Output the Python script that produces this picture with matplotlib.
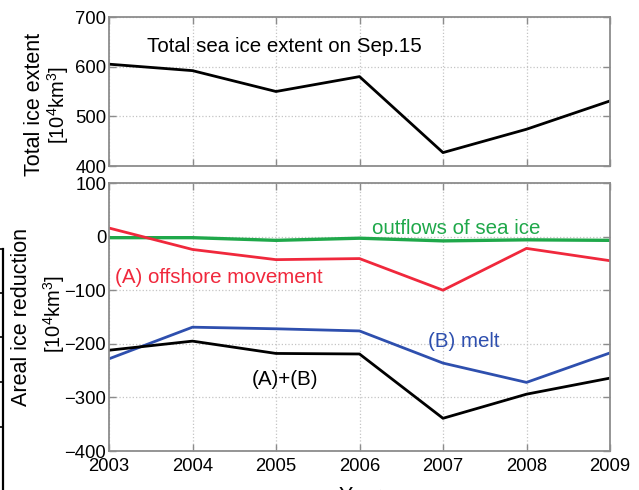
import matplotlib
matplotlib.use("Agg")
import matplotlib.pyplot as plt
from matplotlib.lines import Line2D

plt.rcParams['font.family'] = ['Liberation Sans', 'DejaVu Sans']
plt.rcParams['mathtext.fontset'] = 'custom'
plt.rcParams['mathtext.rm'] = 'Liberation Sans'
plt.rcParams['mathtext.default'] = 'regular'

years = [2003, 2004, 2005, 2006, 2007, 2008, 2009]
total_extent = [605, 592, 550, 580, 427, 474, 531]
outflows = [-2, -2, -7, -3, -8, -6, -7]
offshore = [16, -24, -43, -41, -100, -22, -45]
melt = [-228, -169, -172, -176, -236, -272, -217]
combined = [-212, -195, -218, -219, -339, -294, -264]

top_ticks = [400, 500, 600, 700]
bottom_ticks = [-400, -300, -200, -100, 0, 100]

GREEN = '#1fa84a'
RED = '#f0283c'
BLUE = '#2e4fae'
SPINE = '#8c8c8c'

W, H = 639, 490
fig = plt.figure(figsize=(W / 100, H / 100), dpi=100)

ax1 = fig.add_axes([109 / W, 1 - 166 / H, 501 / W, 149 / H])
ax2 = fig.add_axes([109 / W, 1 - 451 / H, 501 / W, 268 / H])


def style(ax, yticks, show_x):
    ax.set_xlim(2003, 2009)
    ax.set_ylim(yticks[0], yticks[-1])
    ax.set_xticks(years)
    ax.set_yticks(yticks)
    ax.tick_params(direction='in', length=5, width=1, color=SPINE,
                   top=True, right=True, labelsize=13.3, pad=2,
                   labelbottom=show_x)
    for s in ax.spines.values():
        s.set_color(SPINE)
        s.set_linewidth(1.3)
    ax.grid(True, linestyle=':', color='#c4c4c4', linewidth=0.9)
    ax.set_axisbelow(True)


style(ax1, top_ticks, False)
style(ax2, bottom_ticks, True)
ax2.tick_params(axis='x', pad=5)

ax1.plot(years, total_extent, color='black', lw=2.0)
ax1.text(2003.455, 640, 'Total sea ice extent on Sep.15', fontsize=14.8,
         ha='left', va='center')

ax2.plot(years, outflows, color=GREEN, lw=2.4)
ax2.plot(years, offshore, color=RED, lw=2.0)
ax2.plot(years, melt, color=BLUE, lw=2.0)
ax2.plot(years, combined, color='black', lw=2.0)

ax2.text(2006.15, 16, 'outflows of sea ice', color=GREEN, fontsize=14.8,
         ha='left', va='center')
ax2.text(2003.07, -77, '(A) offshore movement', color=RED, fontsize=14.8,
         ha='left', va='center')
ax2.text(2006.82, -196, '(B) melt', color=BLUE, fontsize=14.8,
         ha='left', va='center')
ax2.text(2004.71, -267, '(A)+(B)', color='black', fontsize=14.8,
         ha='left', va='center')

# y-axis labels, two lines each
unit = '[10$^{4}$km$^{3}$]'
fig.text(34 / W, 1 - 104 / H, 'Total ice extent', rotation=90,
         ha='center', va='center', fontsize=15.5)
fig.text(58 / W, 1 - 105 / H, unit, rotation=90,
         ha='center', va='center', fontsize=14.5)
fig.text(22 / W, 1 - 317 / H, 'Areal ice reduction', rotation=90,
         ha='center', va='center', fontsize=15.5)
fig.text(54 / W, 1 - 314 / H, unit, rotation=90,
         ha='center', va='center', fontsize=14.5)

fig.text(360 / W, 1 - 496 / H, 'Year', ha='center', va='center',
         fontsize=15.5)

# thin frame edge at the left margin
fig.add_artist(Line2D([3 / W, 3 / W], [1 - 249 / H, 0],
                      transform=fig.transFigure, color='black', lw=1.6))
for yp in [249, 293, 337, 382, 427]:
    fig.add_artist(Line2D([0, 3 / W], [1 - yp / H, 1 - yp / H],
                          transform=fig.transFigure, color='black', lw=1.2))

fig.savefig('out.png', dpi=100)
